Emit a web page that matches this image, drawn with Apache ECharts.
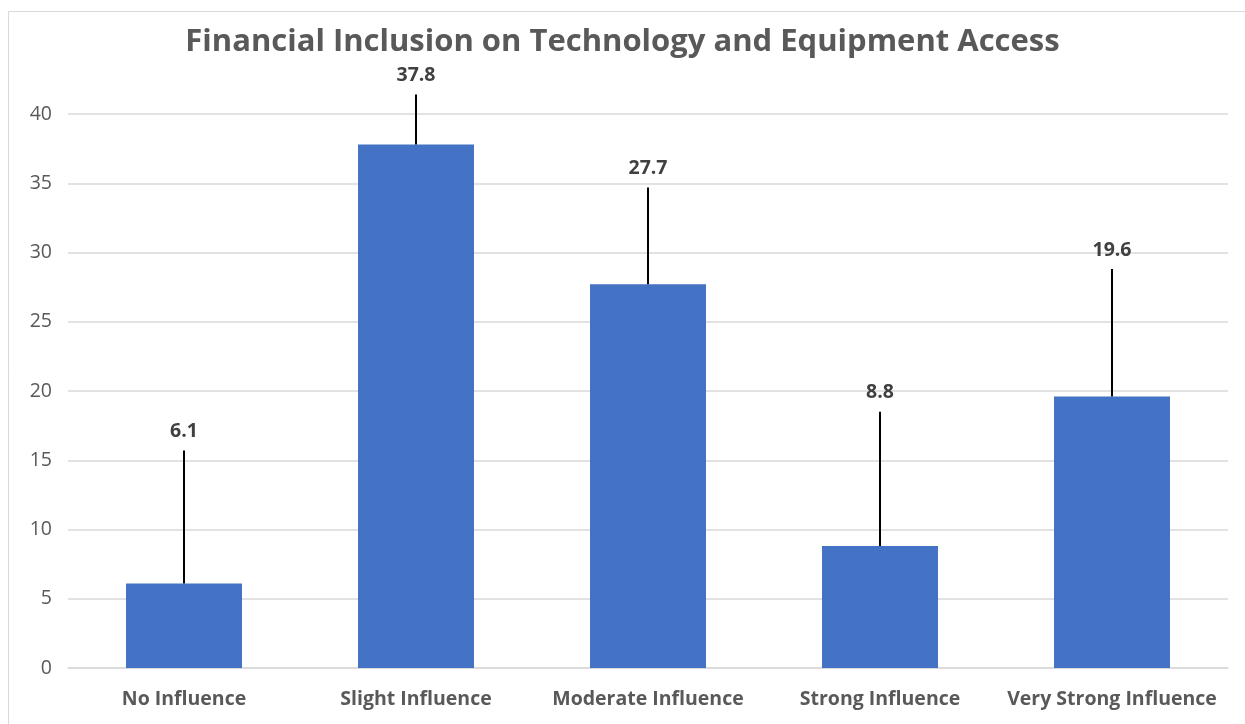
<!DOCTYPE html>
<html>
<head>
<meta charset="utf-8">
<title>Financial Inclusion on Technology and Equipment Access</title>
<script src="https://cdn.jsdelivr.net/npm/echarts@6/dist/echarts.min.js"></script>
<style>
  html, body { margin: 0; padding: 0; background: #ffffff; }
  #chart { width: 1245px; height: 724px; }
</style>
</head>
<body>
<div id="chart"></div>
<script>
// Response categories and mean scores
const categories = ['No Influence', 'Slight Influence', 'Moderate Influence', 'Strong Influence', 'Very Strong Influence'];
const values = [6.1, 37.8, 27.7, 8.8, 19.6];
// Upper end of each error bar
const errorUpper = [15.7, 41.4, 34.7, 18.5, 28.8];
const yTicks = { min: 0, max: 40, interval: 5 };

const FONT = '"Open Sans", "Liberation Sans", sans-serif';

const chart = echarts.init(document.getElementById('chart'), null, { renderer: 'canvas' });

const errorData = categories.map((c, i) => [i, values[i], errorUpper[i]]);

chart.setOption({
  backgroundColor: '#ffffff',
  animation: false,
  title: {
    text: 'Financial Inclusion on Technology and Equipment Access',
    left: 'center',
    top: 22,
    textStyle: { fontFamily: FONT, fontSize: 31, fontWeight: 'bold', color: '#595959' }
  },
  graphic: [{
    type: 'rect',
    shape: { x: 8.5, y: 11.5, width: 1250, height: 740 },
    style: { fill: 'none', stroke: '#d9d9d9', lineWidth: 1 },
    silent: true
  }],
  grid: { left: 68, right: 17, top: 114, bottom: 56, containLabel: false },
  xAxis: {
    type: 'category',
    data: categories,
    axisLine: { show: true, lineStyle: { color: '#d9d9d9', width: 1.5 } },
    axisTick: { show: false },
    axisLabel: { fontFamily: FONT, fontSize: 19.5, fontWeight: 'bold', color: '#595959', margin: 21, interval: 0 }
  },
  yAxis: {
    type: 'value',
    min: yTicks.min,
    max: yTicks.max,
    interval: yTicks.interval,
    axisLine: { show: false },
    axisTick: { show: false },
    splitLine: { lineStyle: { color: '#d9d9d9', width: 1.5 } },
    axisLabel: { fontFamily: FONT, fontSize: 19.5, color: '#595959', margin: 16 }
  },
  series: [
    {
      type: 'bar',
      data: values,
      barWidth: '50%',
      itemStyle: { color: '#4472c4' },
      z: 2
    },
    {
      type: 'custom',
      clip: false,
      z: 3,
      data: errorData,
      renderItem: function (params, api) {
        const x = api.value(0);
        const base = api.coord([x, api.value(1)]);
        const top = api.coord([x, api.value(2)]);
        return {
          type: 'group',
          children: [
            {
              type: 'line',
              shape: { x1: base[0], y1: base[1], x2: top[0], y2: top[1] },
              style: { stroke: '#000000', lineWidth: 2 }
            },
            {
              type: 'text',
              x: top[0],
              y: top[1] - 19,
              style: {
                text: values[params.dataIndex].toFixed(1),
                fontFamily: FONT,
                fontSize: 19.5,
                fontWeight: 'bold',
                fill: '#404040',
                align: 'center',
                verticalAlign: 'middle'
              }
            }
          ]
        };
      }
    }
  ]
});
</script>
</body>
</html>
